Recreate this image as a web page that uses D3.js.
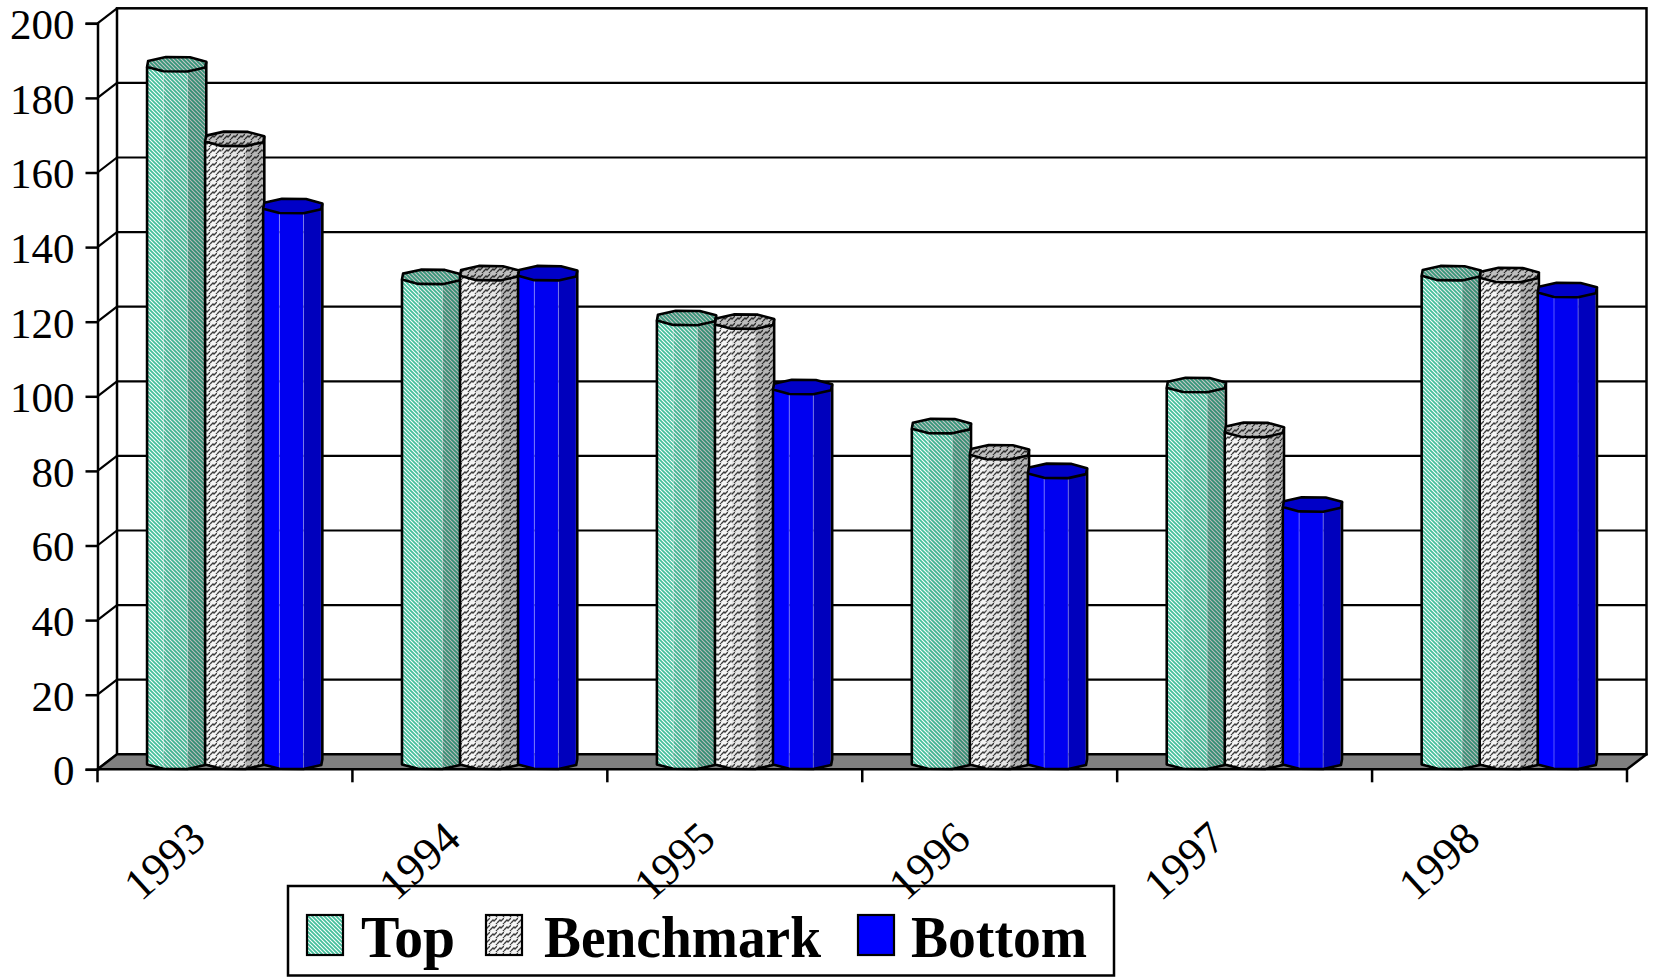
<!DOCTYPE html>
<html>
<head>
<meta charset="utf-8">
<script src="https://cdn.jsdelivr.net/npm/d3@7"></script>
<style>
  html, body { margin: 0; padding: 0; background: #ffffff; }
  svg { display: block; }
</style>
</head>
<body>
<svg id="chart" width="1653" height="977"></svg>
<script>
// ---- data ----
const years = ["1993", "1994", "1995", "1996", "1997", "1998"];
const seriesNames = ["Top", "Benchmark", "Bottom"];
const topValues = [187, 130, 119, 90, 101, 131];
const benchmarkValues = [167, 131, 118, 83, 89, 130.5];
const bottomValues = [149, 131, 100.5, 78, 69, 126.5];
const yTicks = [0, 20, 40, 60, 80, 100, 120, 140, 160, 180, 200];

const seriesValues = { Top: topValues, Benchmark: benchmarkValues, Bottom: bottomValues };

// ---- layout ----
const svg = d3.select("#chart");
const frontLeft = 97.5, frontRight = 1627;
const depthX = 19.5, depthY = -15;           // offset from front plane to back wall
const serif = "'Liberation Serif', 'Times New Roman', serif";

const y = d3.scaleLinear().domain([0, 200]).range([769.3, 23.3]);
const x = d3.scaleBand().domain(years).range([frontLeft, frontRight])
  .paddingInner(0.317).paddingOuter(0.1585);
const xs = d3.scaleBand().domain(seriesNames).range([0, x.bandwidth()]);

// ---- fill patterns ----
const defs = svg.append("defs");

const pTop = defs.append("pattern").attr("id", "pat-top")
  .attr("patternUnits", "userSpaceOnUse").attr("width", 4).attr("height", 4);
pTop.append("rect").attr("width", 4).attr("height", 4).attr("fill", "#ffffff");
pTop.append("path").attr("d", "M-1,-1 L5,5 M3,-1 L5,1 M-1,3 L1,5")
  .attr("stroke", "#45c09c").attr("stroke-width", 1.8);

const pBench = defs.append("pattern").attr("id", "pat-bench")
  .attr("patternUnits", "userSpaceOnUse").attr("width", 7).attr("height", 7);
pBench.append("rect").attr("width", 7).attr("height", 7).attr("fill", "#f4f4f4");
pBench.append("path").attr("d", "M0,6 L3,3 L4,4 L7,1 M-1,1 L0,0 M6,7 L7,6")
  .attr("stroke", "#3c3c3c").attr("stroke-width", 1.3).attr("fill", "none");

const fills = { Top: "url(#pat-top)", Benchmark: "url(#pat-bench)", Bottom: "#0000ff" };

// ---- back wall, floor and grid ----
const wallTop = y(200) + depthY, wallBottom = y(0) + depthY;
const wallLeft = frontLeft + depthX, wallRight = frontRight + depthX;

svg.append("rect")
  .attr("x", wallLeft).attr("y", wallTop)
  .attr("width", wallRight - wallLeft).attr("height", wallBottom - wallTop)
  .attr("fill", "#ffffff").attr("stroke", "#000").attr("stroke-width", 2.5);

const grid = svg.append("g").attr("stroke", "#000").attr("stroke-width", 2.2);
yTicks.filter(v => v > 0 && v < 200).forEach(v => {
  grid.append("line")
    .attr("x1", wallLeft).attr("x2", wallRight)
    .attr("y1", y(v) + depthY).attr("y2", y(v) + depthY);
});
yTicks.forEach(v => {
  grid.append("line")
    .attr("x1", frontLeft).attr("y1", y(v))
    .attr("x2", wallLeft).attr("y2", y(v) + depthY);
});

svg.append("path")
  .attr("d", `M${frontLeft},${y(0)} L${frontRight},${y(0)} L${wallRight},${wallBottom} L${wallLeft},${wallBottom} Z`)
  .attr("fill", "#808080").attr("stroke", "#000").attr("stroke-width", 2.5)
  .attr("stroke-linejoin", "round");

// ---- value axis ----
const yAxis = d3.axisLeft(y).tickValues(yTicks).tickSize(12).tickPadding(11);
const gy = svg.append("g").attr("transform", `translate(${frontLeft},0)`).call(yAxis);
gy.select(".domain").attr("stroke-width", 2.5);
gy.selectAll(".tick line").attr("stroke-width", 2.5);
gy.selectAll(".tick text")
  .attr("font-family", serif).attr("font-size", 43).attr("fill", "#000")
  .attr("dy", "0.36em");

// ---- category axis ticks ----
const boundaries = d3.range(years.length + 1).map(i => x.range()[0] + i * x.step());
svg.append("g").selectAll("line").data(boundaries).join("line")
  .attr("x1", d => d).attr("x2", d => d)
  .attr("y1", y(0)).attr("y2", y(0) + 13)
  .attr("stroke", "#000").attr("stroke-width", 2.5);

// ---- 3-D cylinders (octagonal prisms) ----
const r = 31.5, flat = 0.245;
const angles = d3.range(8).map(k => (-20 + k * 45) * Math.PI / 180);
const faceShade = [0.0, 0.06, 0.26, 0.45];   // left-to-right darkening of the visible facets

function drawBar(g, cx, cyTop, cyBase, fill) {
  const px = a => cx + r * Math.cos(a);
  const py = (a, c) => c + r * flat * Math.sin(a);
  // visible front vertices from left (160deg) to right (-20deg)
  const front = [4, 3, 2, 1, 0].map(k => angles[k]);
  for (let i = 0; i < 4; i++) {
    const a = front[i], b = front[i + 1];
    const d = `M${px(a)},${py(a, cyTop)} L${px(b)},${py(b, cyTop)} L${px(b)},${py(b, cyBase)} L${px(a)},${py(a, cyBase)} Z`;
    g.append("path").attr("d", d).attr("fill", fill);
    if (faceShade[i] > 0) g.append("path").attr("d", d).attr("fill", "#000").attr("opacity", faceShade[i]);
    if (i > 0) {
      g.append("line").attr("x1", px(a)).attr("x2", px(a))
        .attr("y1", py(a, cyTop)).attr("y2", py(a, cyBase))
        .attr("stroke", "#ffffff").attr("stroke-opacity", 0.35).attr("stroke-width", 1);
    }
  }
  // body outline
  const outline = [`M${px(front[0])},${py(front[0], cyTop)}`];
  front.forEach(a => outline.push(`L${px(a)},${py(a, cyBase)}`));
  outline.push(`L${px(front[4])},${py(front[4], cyTop)}`);
  g.append("path").attr("d", outline.join(" "))
    .attr("fill", "none").attr("stroke", "#000").attr("stroke-width", 2.6)
    .attr("stroke-linejoin", "round");
  // cap
  const cap = angles.map((a, i) => `${i ? "L" : "M"}${px(a)},${py(a, cyTop)}`).join(" ") + " Z";
  g.append("path").attr("d", cap).attr("fill", fill);
  g.append("path").attr("d", cap).attr("fill", "#000").attr("opacity", 0.22);
  g.append("path").attr("d", cap).attr("fill", "none")
    .attr("stroke", "#000").attr("stroke-width", 2.6).attr("stroke-linejoin", "round");
}

const barsG = svg.append("g");
years.forEach((yr, i) => {
  seriesNames.forEach(s => {
    const v = seriesValues[s][i];
    const cx = x(yr) + xs(s) + xs.bandwidth() / 2 + depthX / 2;
    drawBar(barsG.append("g"), cx, y(v) + depthY / 2, y(0) + depthY / 2, fills[s]);
  });
});

// ---- legend ----
const legend = svg.append("g");
legend.append("rect")
  .attr("x", 288).attr("y", 886).attr("width", 826).attr("height", 89.5)
  .attr("fill", "#ffffff").attr("stroke", "#000").attr("stroke-width", 2.5);

const legendItems = [
  { name: "Top", sx: 307, tx: 361, tw: 94 },
  { name: "Benchmark", sx: 486, tx: 544, tw: 277 },
  { name: "Bottom", sx: 858, tx: 911, tw: 176 }
];
legendItems.forEach(it => {
  legend.append("rect")
    .attr("x", it.sx).attr("y", 915).attr("width", 36).attr("height", 40)
    .attr("fill", fills[it.name]).attr("stroke", "#000").attr("stroke-width", 2.2);
  legend.append("text")
    .attr("x", it.tx).attr("y", 957)
    .attr("font-family", serif).attr("font-weight", "bold").attr("font-size", 60)
    .attr("textLength", it.tw).attr("lengthAdjust", "spacingAndGlyphs")
    .attr("fill", "#000")
    .text(it.name);
});

// ---- category labels (drawn last, their tails run over the legend frame) ----
svg.append("g").selectAll("text").data(years).join("text")
  .attr("transform", d => `translate(${x(d) + x.bandwidth() / 2 - 17},${842}) rotate(-42)`)
  .attr("text-anchor", "end")
  .attr("font-family", serif).attr("font-size", 45).attr("fill", "#000")
  .text(d => d);
</script>
</body>
</html>
